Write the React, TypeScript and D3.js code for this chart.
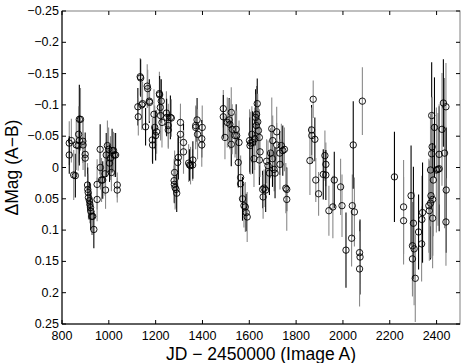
import React, { useEffect, useRef } from 'react';
import * as d3 from 'd3';

// [JD - 2450000, delta mag (A-B), error]
const season1 = [
  [831, -0.039, 0.035], [831, -0.020, 0.03], [840, -0.043, 0.035], [850, 0.012, 0.04],
  [857, 0.013, 0.035], [861, -0.036, 0.04], [869, -0.035, 0.04], [874, -0.077, 0.055],
  [879, -0.077, 0.05], [871, -0.053, 0.045], [874, -0.043, 0.04], [889, -0.042, 0.035],
  [890, -0.036, 0.04], [899, -0.021, 0.035], [899, -0.015, 0.03], [909, 0.028, 0.035],
  [910, 0.035, 0.035], [912, 0.040, 0.03], [913, 0.048, 0.035], [917, 0.053, 0.03],
  [919, 0.059, 0.03], [922, 0.064, 0.035], [923, 0.070, 0.03], [927, 0.078, 0.03],
  [931, 0.078, 0.03], [936, 0.099, 0.03], [950, 0.027, 0.04], [950, 0.051, 0.035],
  [963, -0.029, 0.04], [964, 0.000, 0.035], [969, 0.020, 0.035], [974, 0.020, 0.03],
  [984, 0.010, 0.035], [986, 0.036, 0.03], [989, -0.020, 0.035], [994, -0.035, 0.04],
  [999, -0.029, 0.035], [1003, -0.007, 0.03], [1007, -0.015, 0.035], [1011, 0.008, 0.03],
  [1014, -0.027, 0.035], [1020, -0.027, 0.03], [1023, -0.020, 0.035], [1029, -0.020, 0.035],
  [1036, 0.028, 0.02], [1036, 0.036, 0.02],
];

const season2 = [
  [1124, -0.097, 0.03], [1126, -0.081, 0.03], [1134, -0.145, 0.03], [1136, -0.143, 0.03],
  [1141, -0.100, 0.04], [1144, -0.102, 0.035], [1157, -0.065, 0.03], [1164, -0.130, 0.035],
  [1166, -0.126, 0.03], [1173, -0.106, 0.035], [1174, -0.104, 0.03], [1186, -0.044, 0.035],
  [1187, -0.036, 0.03], [1193, -0.085, 0.04], [1196, -0.064, 0.035], [1200, -0.051, 0.04],
  [1204, -0.057, 0.035], [1216, -0.118, 0.035], [1217, -0.116, 0.03], [1220, -0.096, 0.045],
  [1221, -0.083, 0.04], [1224, -0.106, 0.035], [1227, -0.072, 0.04], [1246, -0.087, 0.035],
  [1247, -0.080, 0.03], [1254, -0.067, 0.035], [1254, -0.060, 0.03], [1263, -0.080, 0.035],
  [1267, -0.079, 0.03], [1279, 0.021, 0.035], [1280, 0.027, 0.03], [1283, 0.032, 0.035],
  [1287, 0.035, 0.03], [1290, 0.041, 0.03], [1281, 0.008, 0.035], [1294, -0.008, 0.04],
  [1297, -0.016, 0.035], [1306, -0.072, 0.03], [1306, -0.053, 0.035], [1319, -0.040, 0.03],
  [1319, -0.025, 0.035], [1341, -0.007, 0.03], [1345, -0.004, 0.025], [1349, -0.003, 0.03],
  [1358, -0.004, 0.025], [1359, -0.012, 0.03], [1371, -0.067, 0.03], [1371, -0.064, 0.035],
  [1377, -0.076, 0.035], [1379, -0.053, 0.04], [1399, -0.064, 0.035], [1397, -0.046, 0.03],
  [1397, -0.036, 0.035],
];

const season3 = [
  [1489, -0.094, 0.03], [1489, -0.081, 0.035], [1496, -0.048, 0.035], [1506, -0.072, 0.04],
  [1514, -0.076, 0.035], [1517, -0.069, 0.04], [1523, -0.088, 0.04], [1523, -0.037, 0.035],
  [1527, -0.061, 0.04], [1539, -0.051, 0.035], [1544, -0.061, 0.04], [1546, -0.051, 0.04],
  [1556, -0.040, 0.035], [1553, -0.008, 0.04], [1563, 0.016, 0.035], [1563, 0.026, 0.03],
  [1571, 0.050, 0.035], [1577, 0.061, 0.035], [1583, 0.063, 0.04], [1587, 0.072, 0.03],
  [1591, 0.079, 0.04], [1601, -0.043, 0.05], [1603, -0.035, 0.045], [1606, -0.039, 0.05],
  [1611, -0.053, 0.045], [1614, -0.040, 0.05], [1620, -0.014, 0.045], [1623, -0.046, 0.05],
  [1627, -0.080, 0.045], [1630, -0.067, 0.05], [1631, -0.085, 0.045], [1634, -0.102, 0.04],
  [1636, -0.073, 0.045], [1639, -0.059, 0.04], [1643, -0.012, 0.04], [1643, -0.048, 0.045],
  [1646, -0.025, 0.04], [1657, 0.035, 0.03], [1659, 0.047, 0.035], [1663, 0.033, 0.03],
  [1670, 0.036, 0.035], [1674, -0.010, 0.035], [1680, -0.003, 0.04], [1686, 0.009, 0.035],
  [1691, -0.023, 0.04], [1696, -0.062, 0.05], [1699, -0.014, 0.045], [1700, -0.043, 0.04],
  [1706, 0.003, 0.035], [1710, 0.009, 0.04], [1717, -0.057, 0.04], [1717, -0.036, 0.035],
  [1730, -0.023, 0.035], [1731, -0.005, 0.04], [1737, -0.035, 0.035], [1743, -0.027, 0.04],
  [1750, -0.029, 0.035], [1756, 0.033, 0.04], [1760, 0.035, 0.035], [1760, 0.051, 0.05],
];

const season4 = [
  [1859, -0.011, 0.055], [1866, -0.060, 0.04], [1867, -0.051, 0.045], [1873, -0.109, 0.03],
  [1880, -0.045, 0.035], [1884, 0.020, 0.035], [1896, 0.042, 0.035], [1916, 0.011, 0.04],
  [1923, -0.019, 0.04], [1927, -0.005, 0.035], [1927, 0.012, 0.04], [1940, 0.069, 0.04],
  [1957, 0.063, 0.05], [1963, 0.020, 0.045], [1990, 0.031, 0.045], [1996, 0.061, 0.05],
  [2013, 0.132, 0.06], [2037, 0.113, 0.045], [2040, 0.061, 0.05], [2044, -0.036, 0.07],
  [2049, 0.071, 0.055], [2071, 0.136, 0.05], [2073, 0.143, 0.06], [2071, 0.162, 0.06],
  [2083, -0.106, 0.054],
];

const season5 = [
  [2220, 0.015, 0.072], [2259, 0.063, 0.075], [2259, 0.085, 0.07], [2291, 0.045, 0.08],
  [2297, 0.125, 0.07], [2297, 0.146, 0.06], [2301, 0.089, 0.09], [2304, 0.130, 0.09],
  [2309, 0.177, 0.07], [2323, 0.103, 0.06], [2336, 0.122, 0.06], [2337, 0.083, 0.07],
  [2340, 0.072, 0.08], [2367, 0.061, 0.075], [2369, 0.069, 0.08], [2374, 0.057, 0.09],
  [2374, 0.004, 0.09], [2376, 0.045, 0.1], [2379, -0.083, 0.085], [2379, -0.022, 0.09],
  [2381, -0.033, 0.08], [2383, 0.051, 0.09], [2383, 0.081, 0.08], [2386, 0.020, 0.09],
  [2391, -0.064, 0.08], [2399, 0.004, 0.1], [2406, 0.003, 0.09], [2411, 0.002, 0.1],
  [2411, -0.021, 0.08], [2423, -0.061, 0.09], [2429, -0.103, 0.07], [2434, -0.023, 0.12],
  [2440, -0.097, 0.07], [2441, 0.036, 0.1], [2440, 0.087, 0.07],
];

const seasons = [season1, season2, season3, season4, season5];
const xTicks = [800, 1000, 1200, 1400, 1600, 1800, 2000, 2200, 2400];
const yTicks = [-0.25, -0.2, -0.15, -0.1, -0.05, 0, 0.05, 0.1, 0.15, 0.2, 0.25];

const W = 463;
const H = 363;
const m = { left: 62, right: 3, top: 11, bottom: 39 };

const fmt = (v: number) => {
  if (v === 0) return '0';
  return (v < 0 ? '\u2212' : '') + String(Math.abs(v));
};

export default function App() {
  const ref = useRef<SVGSVGElement>(null);

  useEffect(() => {
    const svg = d3.select(ref.current);
    svg.selectAll('*').remove();

    const x = d3.scaleLinear().domain([800, 2500]).range([m.left, W - m.right]);
    const y = d3.scaleLinear().domain([-0.25, 0.25]).range([m.top, H - m.bottom]);

    const g = svg.append('g');

    // frame: gray top/right, black left/bottom
    g.append('rect')
      .attr('x', x(800)).attr('y', y(-0.25))
      .attr('width', x(2500) - x(800)).attr('height', y(0.25) - y(-0.25))
      .attr('fill', 'none').attr('stroke', '#808080').attr('stroke-width', 1);
    g.append('line')
      .attr('x1', x(800)).attr('x2', x(800))
      .attr('y1', y(-0.25)).attr('y2', y(0.25))
      .attr('stroke', '#000').attr('stroke-width', 1);
    g.append('line')
      .attr('x1', x(800)).attr('x2', x(2500))
      .attr('y1', y(0.25)).attr('y2', y(0.25))
      .attr('stroke', '#000').attr('stroke-width', 1);

    // inward ticks on all four sides
    const tl = 4;
    xTicks.forEach(t => {
      g.append('line').attr('x1', x(t)).attr('x2', x(t))
        .attr('y1', y(0.25)).attr('y2', y(0.25) - tl).attr('stroke', '#000');
      g.append('line').attr('x1', x(t)).attr('x2', x(t))
        .attr('y1', y(-0.25)).attr('y2', y(-0.25) + tl).attr('stroke', '#000');
    });
    yTicks.forEach(t => {
      g.append('line').attr('x1', x(800)).attr('x2', x(800) + tl)
        .attr('y1', y(t)).attr('y2', y(t)).attr('stroke', '#000');
      g.append('line').attr('x1', x(2500)).attr('x2', x(2500) - tl)
        .attr('y1', y(t)).attr('y2', y(t)).attr('stroke', '#000');
    });

    const font = 'Liberation Sans, Arial, sans-serif';
    g.selectAll('text.xt').data(xTicks).join('text')
      .attr('class', 'xt')
      .attr('x', d => x(d)).attr('y', y(0.25) + 16)
      .attr('text-anchor', 'middle')
      .attr('font-family', font).attr('font-size', 12.5)
      .text(d => String(d));
    g.selectAll('text.yt').data(yTicks).join('text')
      .attr('class', 'yt')
      .attr('x', x(800) - 3).attr('y', d => y(d) + 4)
      .attr('text-anchor', 'end')
      .attr('font-family', font).attr('font-size', 12.5)
      .text(d => fmt(d));

    g.append('text')
      .attr('x', (x(800) + x(2500)) / 2).attr('y', H - 3)
      .attr('text-anchor', 'middle')
      .attr('font-family', font).attr('font-size', 17.5)
      .text('JD \u2212 2450000 (Image A)');
    g.append('text')
      .attr('transform', `translate(18,${(y(-0.25) + y(0.25)) / 2}) rotate(-90)`)
      .attr('text-anchor', 'middle')
      .attr('font-family', font).attr('font-size', 17.5)
      .text('\u0394Mag (A\u2212B)');

    const pts = seasons.flat();

    // error bars
    g.append('g').selectAll('line').data(pts).join('line')
      .attr('x1', d => x(d[0])).attr('x2', d => x(d[0]))
      .attr('y1', d => y(d[1] - d[2])).attr('y2', d => y(d[1] + d[2]))
      .attr('stroke', (d, i) => (i % 3 === 1 ? '#000' : '#8a8a8a'))
      .attr('stroke-width', 1.1);

    // markers
    g.append('g').selectAll('circle').data(pts).join('circle')
      .attr('cx', d => x(d[0])).attr('cy', d => y(d[1]))
      .attr('r', 3.2)
      .attr('fill', 'none')
      .attr('stroke', '#000')
      .attr('stroke-width', 0.9);
  }, []);

  return (
    <svg ref={ref} width={W} height={H}
      style={{ position: 'absolute', left: 0, top: 0, background: '#fff' }} />
  );
}
